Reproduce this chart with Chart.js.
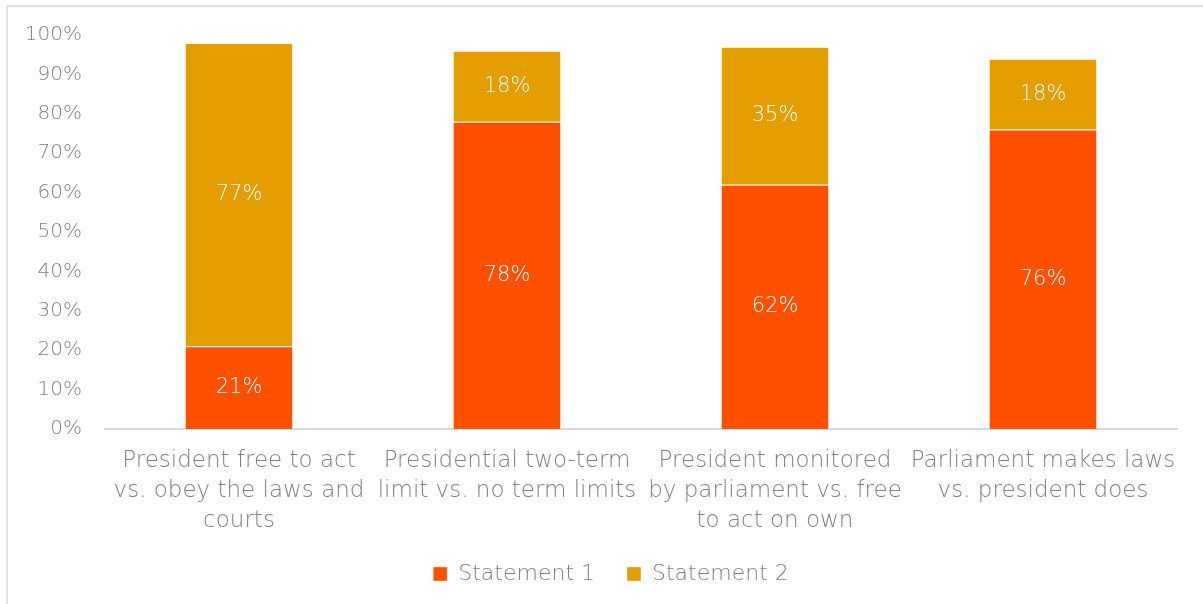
<!DOCTYPE html>
<html>
<head>
<meta charset="utf-8">
<script src="https://cdn.jsdelivr.net/npm/chart.js@4"></script>
<style>
  html, body { margin: 0; padding: 0; background: #fff; overflow: hidden; }
  #frame { position: absolute; left: 6px; top: 5px; width: 1220px; height: 620px; border: 2px solid #e0e0e0; box-sizing: border-box; }
  #wrap { position: absolute; left: 0; top: 0; width: 1203px; height: 604px; }
</style>
</head>
<body>
<div id="frame"></div>
<div id="wrap"><canvas id="c" width="1203" height="604"></canvas></div>
<script>
// categories (already wrapped the way the picture shows them)
const categories = [
  ['President free to act', 'vs. obey the laws and', 'courts'],
  ['Presidential two-term', 'limit vs. no term limits'],
  ['President monitored', 'by parliament vs. free', 'to act on own'],
  ['Parliament makes laws', 'vs. president does']
];
const statement1 = [21, 78, 62, 76];
const statement2 = [77, 18, 35, 18];
const yTicks = [0, 10, 20, 30, 40, 50, 60, 70, 80, 90, 100];

const textGray = '#7f7f7f';
const fontFamily = '"DejaVu Sans", sans-serif';

// white value labels in the middle of every segment
const valueLabels = {
  id: 'valueLabels',
  afterDatasetsDraw(chart) {
    const ctx = chart.ctx;
    ctx.save();
    ctx.fillStyle = '#ffffff';
    ctx.font = '300 21px ' + fontFamily;
    ctx.textAlign = 'center';
    ctx.textBaseline = 'middle';
    chart.data.datasets.forEach((ds, i) => {
      chart.getDatasetMeta(i).data.forEach((bar, j) => {
        const p = bar.getProps(['x', 'y', 'base'], true);
        ctx.fillText(ds.data[j] + '%', p.x, (p.y + p.base) / 2);
      });
    });
    ctx.restore();
  }
};

new Chart(document.getElementById('c'), {
  type: 'bar',
  data: {
    labels: categories,
    datasets: [
      { label: 'Statement 1', data: statement1, backgroundColor: '#ff5000', borderColor: 'rgba(255,255,255,0.35)', borderWidth: 1, categoryPercentage: 1, barPercentage: 0.405 },
      { label: 'Statement 2', data: statement2, backgroundColor: '#e59e00', borderColor: 'rgba(255,255,255,0.35)', borderWidth: 1, categoryPercentage: 1, barPercentage: 0.405 }
    ]
  },
  options: {
    responsive: false,
    animation: false,
    devicePixelRatio: 1,
    layout: { padding: { left: 19, right: 0, top: 35, bottom: 9 } },
    plugins: {
      legend: {
        position: 'bottom',
        labels: {
          color: textGray,
          font: { family: fontFamily, size: 22, weight: '300' },
          boxWidth: 14,
          boxHeight: 14,
          padding: 32
        }
      },
      tooltip: { enabled: false }
    },
    scales: {
      x: {
        stacked: true,
        afterFit(s) { s.height = 102; },
        grid: { display: false, drawTicks: false },
        border: { display: true, color: '#d9d9d9', width: 2 },
        ticks: { color: textGray, font: { family: fontFamily, size: 23, weight: '300', lineHeight: 1.3 }, padding: 17, maxRotation: 0, autoSkip: false }
      },
      y: {
        stacked: true,
        min: 0,
        max: 100,
        afterFit(s) { s.width = 86; },
        afterBuildTicks(s) { s.ticks = yTicks.map(v => ({ value: v })); },
        grid: { display: false, drawTicks: false },
        border: { display: false },
        ticks: { color: textGray, font: { family: fontFamily, size: 20, weight: '300' }, padding: 23, callback: v => v + '%' }
      },
      // empty right-hand margin so the legend sits where the picture has it
      yRight: {
        position: 'right',
        min: 0,
        max: 100,
        afterFit(s) { s.width = 26; },
        grid: { display: false, drawTicks: false },
        border: { display: false },
        ticks: { display: false }
      }
    }
  },
  plugins: [valueLabels]
});
</script>
</body>
</html>
